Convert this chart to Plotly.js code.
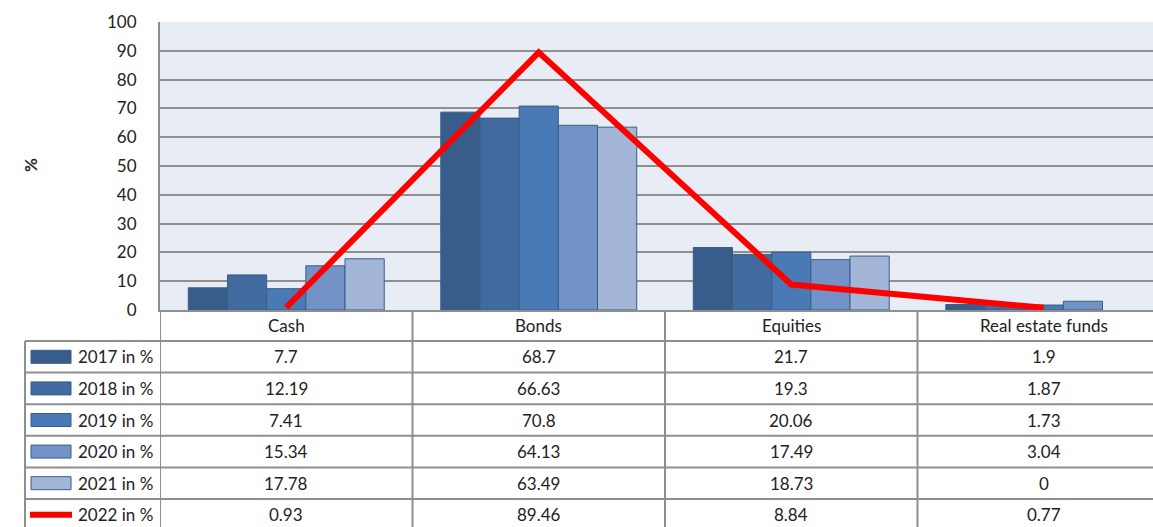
<!DOCTYPE html>
<html>
<head>
<meta charset="utf-8">
<script src="https://cdn.plot.ly/plotly-3.0.1.min.js"></script>
<style>html,body{margin:0;padding:0;background:#fff;}#chart{width:1153px;height:527px;}</style>
</head>
<body>
<div id="chart"></div>
<script>
const categories = ['Cash', 'Bonds', 'Equities', 'Real estate funds'];
const v2017 = [7.7, 68.7, 21.7, 1.9];
const v2018 = [12.19, 66.63, 19.3, 1.87];
const v2019 = [7.41, 70.8, 20.06, 1.73];
const v2020 = [15.34, 64.13, 17.49, 3.04];
const v2021 = [17.78, 63.49, 18.73, 0];
const v2022 = [0.93, 89.46, 8.84, 0.77];
const seriesNames = ['2017 in %', '2018 in %', '2019 in %', '2020 in %', '2021 in %', '2022 in %'];
const yTicks = [0, 10, 20, 30, 40, 50, 60, 70, 80, 90, 100];
const yAxisLabel = '%';

const barSeries = [v2017, v2018, v2019, v2020, v2021];
const barColors = ['#385D8A', '#416B9F', '#4A7AB5', '#7393C6', '#A3B6D7'];
const borderColor = '#385D8A';
const gridGray = '#8F8F8F';
const FONT = 'Lato, "Open Sans", sans-serif';

// layout geometry (pixels)
const W = 1153, H = 527, L = 160, T = 22, B = 217;
const plotW = W - L, plotH = H - T - B;
const catW = 252.5;
const px2paperY = p => (H - B - p) / plotH;
const px2paperX = p => (p - L) / plotW;

const traces = [];
barSeries.forEach((vals, i) => {
  traces.push({
    type: 'bar', x: categories, y: vals, name: seriesNames[i],
    marker: {color: barColors[i], line: {color: borderColor, width: vals.map(v => v === 0 ? 0 : 1)}},
    showlegend: false, hoverinfo: 'x+y+name'
  });
});
traces.push({
  type: 'scatter', mode: 'lines', x: categories, y: v2022, name: seriesNames[5],
  line: {color: '#FF0000', width: 6}, showlegend: false, cliponaxis: false
});

const shapes = [];
const annotations = [];
const rowTop = 341, rowH = 31.6;
const lineStyle = {color: gridGray, width: 2};

// header row center
const headerCenter = (310 + rowTop) / 2;
categories.forEach(c => {
  annotations.push({xref: 'x', yref: 'paper', x: c, y: px2paperY(headerCenter), text: c,
    showarrow: false, font: {family: FONT, size: 17, color: '#222'}, xanchor: 'center', yanchor: 'middle'});
});

// vertical lines at category boundaries
for (let k = 0; k <= categories.length; k++) {
  shapes.push({type: 'line', xref: 'x', yref: 'paper', x0: k - 0.5, x1: k - 0.5,
    y0: px2paperY(310), y1: px2paperY(H + 5), line: lineStyle, layer: 'above'});
}
// left column border
shapes.push({type: 'line', xref: 'paper', yref: 'paper', x0: px2paperX(25), x1: px2paperX(25),
  y0: px2paperY(rowTop), y1: px2paperY(H + 5), line: lineStyle});

const allSeries = [v2017, v2018, v2019, v2020, v2021, v2022];
allSeries.forEach((vals, i) => {
  const top = rowTop + i * rowH;
  const center = top + rowH / 2;
  shapes.push({type: 'line', xref: 'paper', yref: 'paper', x0: px2paperX(25), x1: 1.05,
    y0: px2paperY(top), y1: px2paperY(top), line: lineStyle});
  // legend key
  if (i < 5) {
    shapes.push({type: 'rect', xref: 'paper', yref: 'paper', x0: px2paperX(31), x1: px2paperX(71),
      y0: px2paperY(center - 6.5), y1: px2paperY(center + 6.5),
      fillcolor: barColors[i], line: {color: borderColor, width: 1}});
  } else {
    shapes.push({type: 'line', xref: 'paper', yref: 'paper', x0: px2paperX(30), x1: px2paperX(72),
      y0: px2paperY(center), y1: px2paperY(center), line: {color: '#FF0000', width: 6}});
  }
  annotations.push({xref: 'paper', yref: 'paper', x: px2paperX(155), y: px2paperY(center),
    text: seriesNames[i], showarrow: false, xanchor: 'right', yanchor: 'middle',
    font: {family: FONT, size: 17, color: '#222'}});
  vals.forEach((v, j) => {
    annotations.push({xref: 'x', yref: 'paper', x: categories[j], y: px2paperY(center),
      text: String(v), showarrow: false, xanchor: 'center', yanchor: 'middle',
      font: {family: FONT, size: 17, color: '#222'}});
  });
});

annotations.push({xref: 'paper', yref: 'paper', x: px2paperX(30), y: px2paperY(165), text: '<b>' + yAxisLabel + '</b>',
  textangle: -90, showarrow: false, xanchor: 'center', yanchor: 'middle', font: {family: FONT, size: 17, color: '#222'}});

const layout = {
  width: W, height: H,
  margin: {l: L, r: 0, t: T, b: B, pad: 0},
  paper_bgcolor: '#FFFFFF', plot_bgcolor: '#E8EDF5',
  barmode: 'group', bargap: 0.224, bargroupgap: 0,
  showlegend: false,
  xaxis: {type: 'category', range: [-0.5, -0.5 + plotW / catW], showticklabels: false, ticks: '',
    showgrid: false, zeroline: false, showline: true, linecolor: gridGray, linewidth: 2, fixedrange: true},
  yaxis: {range: [0, 100], tickvals: yTicks, ticktext: yTicks.map(String), showgrid: true, gridcolor: gridGray, gridwidth: 2,
    zeroline: false, showline: true, linecolor: gridGray, linewidth: 2, ticks: '', ticklabelstandoff: 18,
    tickfont: {family: FONT, size: 17, color: '#222'}, fixedrange: true},
  shapes: shapes, annotations: annotations,
  font: {family: FONT}
};

Plotly.newPlot('chart', traces, layout, {displayModeBar: false, staticPlot: true});
</script>
</body>
</html>
